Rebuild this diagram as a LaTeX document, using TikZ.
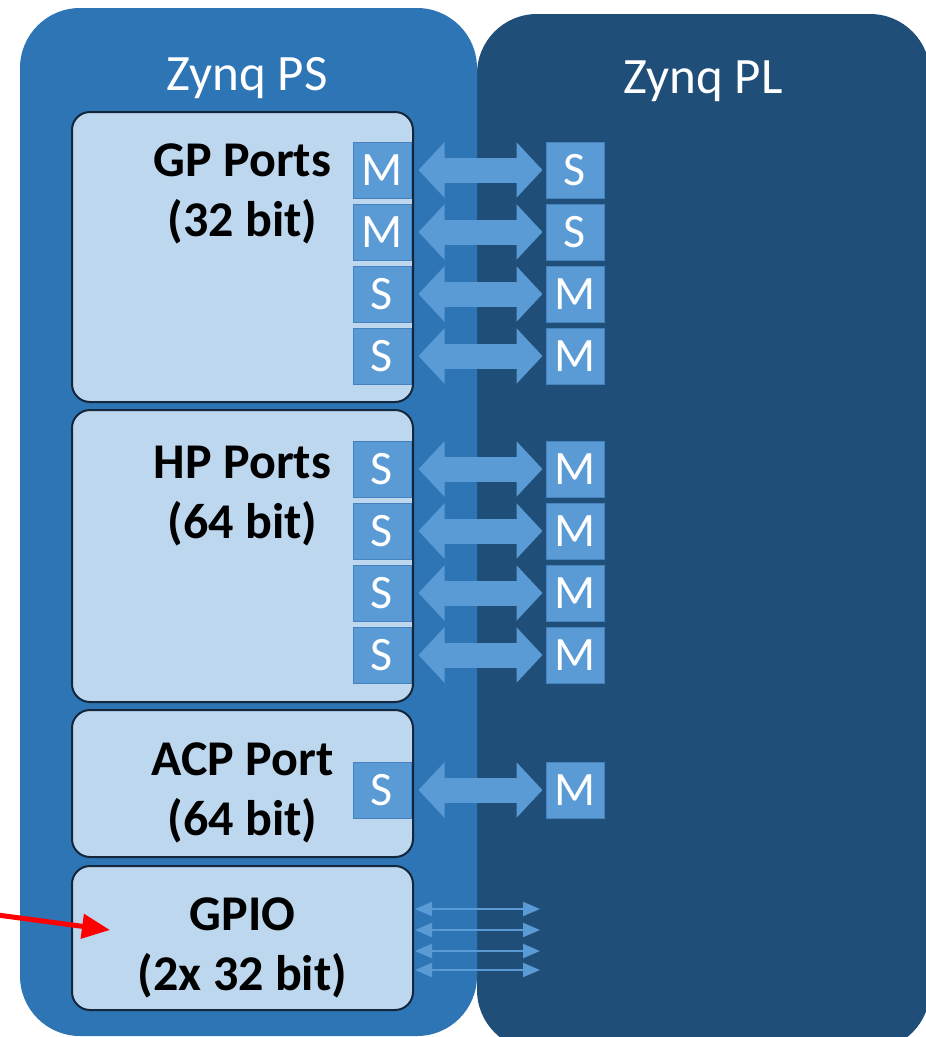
\documentclass[tikz,border=0pt]{standalone}
\usepackage{fontspec}
\setmainfont{Carlito}
\usetikzlibrary{arrows.meta,positioning,calc}

\definecolor{psblue}{RGB}{46,117,182}
\definecolor{plblue}{RGB}{31,78,121}
\definecolor{boxfill}{RGB}{189,215,238}
\definecolor{boxline}{RGB}{20,38,58}
\definecolor{portblue}{RGB}{91,155,213}
\definecolor{portline}{RGB}{72,130,190}

\begin{document}
\begin{tikzpicture}[
  x=1pt, y=-1pt,
  node distance=5pt,
  panel/.style={rounded corners=60pt},
  title/.style={text=white, font=\fontsize{51}{60}\selectfont, anchor=base},
  unit/.style={draw=boxline, line width=2pt, fill=boxfill, rounded corners=18pt,
               minimum width=341pt, inner sep=0pt},
  unitlbl/.style={font=\fontsize{50}{60}\selectfont\bfseries, align=center, anchor=base},
  port/.style={draw=portline, line width=1pt, fill=portblue, text=white,
               minimum width=58pt, minimum height=56pt, inner sep=0pt,
               font=\fontsize{48}{50}\selectfont},
  bus/.style={draw=portblue, line width=25pt,
              {Triangle[width=54pt,length=26pt]}-{Triangle[width=54pt,length=26pt]},
              shorten <=7pt, shorten >=3pt},
  wire/.style={draw=portblue, line width=2pt,
               {Triangle[width=14pt,length=17pt]}-{Triangle[width=14pt,length=17pt]}},
  pointer/.style={draw=red, line width=5pt, -{Triangle[width=24pt,length=28pt]}}
]
\useasboundingbox (0,0) rectangle (926,1037);

% ---------- the two halves of the chip ----------
\fill[plblue, panel] (477,14) rectangle (930,1050);
\fill[psblue, panel] (20,8) rectangle (477,1036);
\node[title] (pstitle) at (247,90) {Zynq PS};
\node[title] (pltitle) at (703,93) {Zynq PL};

% ---------- interface blocks on the PS side ----------
\node[unit, minimum height=290pt] (gp) at (242.5,257) {};
\node[unit, minimum height=292pt] (hp) at (242.5,556) {};
\node[unit, minimum height=147pt] (acp) at (242.5,783.5) {};
\node[unit, minimum height=144pt] (gpio) at (242.5,938) {};

% labels sit on the baseline of their second line
\node[unitlbl] (gplbl) at (242.5,236) {GP Ports\\(32 bit)};
\node[unitlbl] (hplbl) at (242.5,538) {HP Ports\\(64 bit)};
\node[unitlbl] (acplbl) at (242.5,835) {ACP Port\\(64 bit)};
\node[unitlbl] (gpiolbl) at (242.5,990) {GPIO\\(2x 32 bit)};

% ---------- ports, PS side ----------
\node[port] (gpl1) at (382,170) {M};
\node[port, below=of gpl1] (gpl2) {M};
\node[port, below=of gpl2] (gpl3) {S};
\node[port, below=of gpl3] (gpl4) {S};
\node[port] (hpl1) at (382,469) {S};
\node[port, below=of hpl1] (hpl2) {S};
\node[port, below=of hpl2] (hpl3) {S};
\node[port, below=of hpl3] (hpl4) {S};
\node[port] (acpl) at (382,790) {S};

% ---------- ports, PL side ----------
\node[port] (gpr1) at (575,170) {S};
\node[port, below=of gpr1] (gpr2) {S};
\node[port, below=of gpr2] (gpr3) {M};
\node[port, below=of gpr3] (gpr4) {M};
\node[port] (hpr1) at (575,469) {M};
\node[port, below=of hpr1] (hpr2) {M};
\node[port, below=of hpr2] (hpr3) {M};
\node[port, below=of hpr3] (hpr4) {M};
\node[port] (acpr) at (575,790) {M};

% ---------- buses ----------
\foreach \p in {gp,hp}{
  \foreach \i in {1,...,4}{
    \draw[bus] (\p l\i.east) -- (\p r\i.west);
  }
}
\draw[bus] (acpl.east) -- (acpr.west);

% GPIO lines
\foreach \yy [count=\i] in {909,930,951,970}{
  \coordinate (gpiol\i) at (415,\yy);
  \coordinate (gpior\i) at (540,\yy);
  \draw[wire] (gpiol\i) -- (gpior\i);
}

% red marker
\coordinate (ptrtail) at (-10,914);
\coordinate (ptrtip) at (110,930);
\draw[pointer] (ptrtail) -- (ptrtip);

\end{tikzpicture}
\end{document}
